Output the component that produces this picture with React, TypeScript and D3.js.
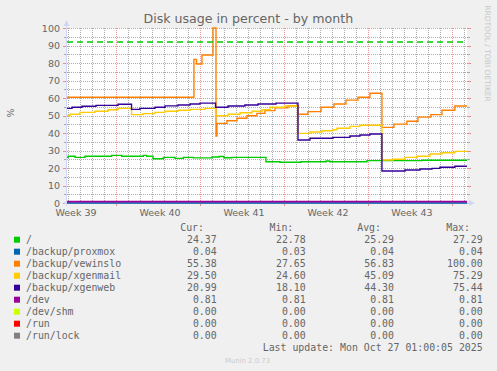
import React from "react";
import * as d3 from "d3";

// ---- data (x = days since left edge of graph, value in %) ----
const seriesNames = [
  "/",
  "/backup/proxmox",
  "/backup/vewinslo",
  "/backup/xgenmail",
  "/backup/xgenweb",
  "/dev",
  "/dev/shm",
  "/run",
  "/run/lock",
];
const seriesColors = [
  "#00CC00",
  "#0066B3",
  "#FF8000",
  "#FFCC00",
  "#330099",
  "#990099",
  "#CCFF00",
  "#FF0000",
  "#808080",
];
const curValues = ["24.37", "0.04", "55.38", "29.50", "20.99", "0.81", "0.00", "0.00", "0.00"];
const minValues = ["22.78", "0.03", "27.65", "24.60", "18.10", "0.81", "0.00", "0.00", "0.00"];
const avgValues = ["25.29", "0.04", "56.83", "45.09", "44.30", "0.81", "0.00", "0.00", "0.00"];
const maxValues = ["27.29", "0.04", "100.00", "75.29", "75.44", "0.81", "0.00", "0.00", "0.00"];

const rootData: [number, number][] = [
  [0, 26.1], [0.1, 26.7], [0.67, 26.1], [1.5, 26.7], [3.72, 27.2], [4.56, 26.7],
  [6.36, 27.2], [6.64, 26.7], [7.17, 25.3], [8.03, 26.1], [9.0, 25.5], [9.69, 26.1],
  [10.53, 25.8], [12.08, 26.3], [12.67, 26.6], [13.08, 25.9], [13.75, 26.1],
  [16.58, 23.6], [17.75, 23.3], [19.5, 23.6], [21.6, 24.0], [21.9, 23.6],
  [25.0, 24.2], [29.6, 24.4], [33.34, 24.4],
];
const proxmoxData: [number, number][] = [[0, 0.04], [33.34, 0.04]];
const vewinsloData: [number, number][] = [
  [0, 60.4], [10.58, 82.1], [10.79, 79.4], [11.25, 84.6], [12.17, 100], [12.42, 38.3],
  [12.5, 45.5], [13.33, 47.0], [14.17, 48.4], [15.0, 49.9], [15.83, 51.2], [16.5, 52.8],
  [17.33, 54.4], [18.42, 55.6], [19.25, 50.7], [20.08, 52.2], [21.17, 54.7], [22.25, 56.6],
  [23.25, 58.8], [24.25, 60.4], [25.25, 62.7], [26.25, 43.2], [27.25, 45.1], [28.33, 46.7],
  [29.25, 49.1], [30.33, 50.5], [31.25, 53.0], [32.33, 55.4], [33.34, 55.4],
];
const xgenmailData: [number, number][] = [
  [0, 49.9], [0.25, 50.7], [1.08, 51.8], [2.33, 52.4], [3.42, 53.3], [4.25, 54.1],
  [5.38, 50.5], [6.33, 51.1], [7.33, 51.8], [8.17, 52.4], [9.25, 53.0], [10.25, 53.5],
  [11.5, 54.1], [12.38, 49.9], [13.42, 50.7], [14.42, 51.6], [15.42, 52.4], [16.25, 53.3],
  [16.92, 54.7], [18.17, 55.4], [19.25, 39.8], [20.25, 40.6], [21.25, 41.3], [22.17, 41.9],
  [22.5, 42.7], [23.58, 43.8], [24.42, 44.4], [26.25, 24.6], [27.17, 25.0], [28.17, 26.1],
  [29.17, 26.7], [30.25, 28.0], [31.25, 28.7], [32.33, 29.5], [33.34, 29.5],
];
const xgenwebData: [number, number][] = [
  [0, 54.1], [0.42, 54.7], [1.25, 55.3], [2.42, 55.8], [4.25, 56.4], [5.38, 53.5],
  [6.08, 54.1], [7.33, 54.7], [8.17, 55.5], [9.25, 56.0], [10.25, 56.6], [11.08, 57.1],
  [12.38, 54.7], [13.42, 55.4], [14.83, 56.0], [15.92, 56.6], [17.42, 57.1], [19.25, 36.0],
  [20.25, 37.0], [22.17, 37.5], [23.58, 38.3], [24.42, 38.9], [25.25, 39.4], [26.25, 18.3],
  [28.17, 18.9], [29.42, 19.4], [30.42, 19.8], [31.08, 20.4], [32.33, 21.0], [33.34, 21.0],
];
const devData: [number, number][] = [[0, 0.81], [33.34, 0.81]];
const devShmData: [number, number][] = [[0, 0], [33.34, 0]];
const runData: [number, number][] = [[0, 0], [33.34, 0]];
const runLockData: [number, number][] = [[0, 0], [33.34, 0]];
const allSeries = [rootData, proxmoxData, vewinsloData, xgenmailData, xgenwebData, devData, devShmData, runData, runLockData];

const warningLevel = [92];
const yTicks = [0, 10, 20, 30, 40, 50, 60, 70, 80, 90, 100];
const weekLabels = ["Week 39", "Week 40", "Week 41", "Week 42", "Week 43"];
const weekLabelDays = [0.75, 7.75, 14.75, 21.75, 28.75];
const weekBoundaryDays = [4.09, 11.09, 18.09, 25.09, 32.09];
const totalDays = 33.34;

export default function App() {
  const W = 497, H = 371;
  const x = d3.scaleLinear().domain([0, totalDays]).range([67, 467]);
  const y = d3.scaleLinear().domain([0, 100]).range([203, 28]);
  const line = d3
    .line<[number, number]>()
    .x((d) => x(d[0]))
    .y((d) => y(d[1]))
    .curve(d3.curveStepAfter);

  const minorDays = d3.range(weekBoundaryDays[0] - 4, totalDays, 1);
  const minorY = d3.range(5, 100, 10);
  const px = (v: number) => Math.round(v) + 0.5;
  const sans = "'DejaVu Sans', sans-serif";
  const mono = "'DejaVu Sans Mono', monospace";
  const fontCol = "#666666";
  const rowY = (i: number) => 243.3 + 12 * i;

  // zero-valued series are drawn below the axis line, others on top
  const isZero = (s: [number, number][]) => s.every((d) => d[1] === 0);
  const order = allSeries.map((s, i) => i);
  const lowSeries = order.filter((i) => isZero(allSeries[i]));
  const highSeries = order.filter((i) => !isZero(allSeries[i]));

  return (
    <svg
      width={W}
      height={H}
      style={{ position: "absolute", left: 0, top: 0 }}
      xmlns="http://www.w3.org/2000/svg"
    >
      <rect x={0} y={0} width={W} height={H} fill="#F0F0F0" />
      <rect x={67} y={28} width={400} height={175} fill="#FFFFFF" />

      {/* minor grid */}
      <g stroke="rgba(143,143,143,0.75)" strokeWidth={1} strokeDasharray="1,1">
        {minorDays
          .filter((d) => !weekBoundaryDays.some((w) => Math.abs(w - d) < 0.01) && x(d) > 67.5)
          .map((d, i) => (
            <line key={"mx" + i} x1={px(x(d))} x2={px(x(d))} y1={28} y2={203} />
          ))}
        {minorY.map((v, i) => (
          <line key={"my" + i} x1={67} x2={467} y1={px(y(v))} y2={px(y(v))} />
        ))}
      </g>
      {/* minor tick marks */}
      <g stroke="rgba(143,143,143,0.75)" strokeWidth={1}>
        {minorY.map((v, i) => (
          <React.Fragment key={"mt" + i}>
            <line x1={64} x2={67} y1={px(y(v))} y2={px(y(v))} />
            <line x1={467} x2={470} y1={px(y(v))} y2={px(y(v))} />
          </React.Fragment>
        ))}
      </g>
      {/* major grid */}
      <g stroke="rgba(222,79,79,0.6)" strokeWidth={1} strokeDasharray="1,1">
        {weekBoundaryDays.map((d, i) => (
          <line key={"Mx" + i} x1={px(x(d))} x2={px(x(d))} y1={28} y2={203} />
        ))}
        {yTicks.map((v, i) => (
          <line key={"My" + i} x1={67} x2={467} y1={px(y(v))} y2={px(y(v))} />
        ))}
      </g>
      <g stroke="rgba(222,79,79,0.6)" strokeWidth={1}>
        {yTicks.map((v, i) => (
          <React.Fragment key={"Mt" + i}>
            <line x1={63} x2={67} y1={px(y(v))} y2={px(y(v))} />
            <line x1={467} x2={471} y1={px(y(v))} y2={px(y(v))} />
          </React.Fragment>
        ))}
        {weekBoundaryDays.map((d, i) => (
          <line key={"Mxt" + i} x1={px(x(d))} x2={px(x(d))} y1={203} y2={206} />
        ))}
      </g>

      {/* zero-valued series */}
      <g fill="none" strokeWidth={1.4}>
        {lowSeries.map((i) => (
          <path key={"z" + i} d={line(allSeries[i]) || ""} stroke={seriesColors[i]} />
        ))}
      </g>

      {/* axes */}
      <g stroke="#CFD6F8" strokeWidth={1}>
        <line x1={px(67) - 1} x2={px(67) - 1} y1={206} y2={24} />
        <line x1={64} x2={470} y1={203} y2={203} strokeWidth={1.6} />
      </g>
      <path d="M63.5,26 L66.5,20 L69.5,26 Z" fill="#CFD6F8" />
      <path d="M469,200 L475,203 L469,206 Z" fill="#CFD6F8" />

      {/* series */}
      <g fill="none" strokeWidth={1.4} strokeLinejoin="miter">
        {highSeries.map((i) => (
          <path
            key={"s" + i}
            d={line(allSeries[i]) || ""}
            stroke={seriesColors[i]}
            strokeWidth={seriesNames[i] === "/dev" ? 1.8 : 1.4}
          />
        ))}
      </g>

      {/* warning line */}
      {warningLevel.map((w, i) => (
        <line
          key={"w" + i}
          x1={67}
          x2={467}
          y1={y(w)}
          y2={y(w)}
          stroke="#00CC00"
          strokeWidth={1.6}
          strokeDasharray="6,4"
        />
      ))}

      {/* title */}
      <text x={248.3} y={22.5} textAnchor="middle" fontFamily={sans} fontSize={12.6} fill={fontCol}>
        Disk usage in percent - by month
      </text>

      {/* y labels */}
      <g fontFamily={sans} fontSize={9.5} fill={fontCol} textAnchor="end">
        {yTicks.map((v) => (
          <text key={"yl" + v} x={60} y={y(v) + 3.5}>
            {v}
          </text>
        ))}
      </g>
      <text
        transform="translate(13.5,113) rotate(-90)"
        textAnchor="middle"
        fontFamily={sans}
        fontSize={9.5}
        fill={fontCol}
      >
        %
      </text>

      {/* x labels */}
      <g fontFamily={sans} fontSize={9.5} fill={fontCol} textAnchor="middle">
        {weekLabels.map((l, i) => (
          <text key={"xl" + i} x={x(weekLabelDays[i])} y={216}>
            {l}
          </text>
        ))}
      </g>

      {/* watermark */}
      <text
        transform="translate(485,53.5) rotate(90)"
        textAnchor="middle"
        fontFamily={sans}
        fontSize={7.5}
        fill="#C8C8C8"
      >
        RRDTOOL / TOBI OETIKER
      </text>

      {/* legend */}
      <g fontFamily={mono} fontSize={9.9} fill={fontCol} style={{ whiteSpace: "pre" }}>
        <text x={204} y={231.3} textAnchor="end">Cur:</text>
        <text x={293.3} y={231.3} textAnchor="end">Min:</text>
        <text x={381} y={231.3} textAnchor="end">Avg:</text>
        <text x={470} y={231.3} textAnchor="end">Max:</text>
        {seriesNames.map((n, i) => (
          <g key={"lg" + i}>
            <rect x={14} y={rowY(i) - 6.6} width={6} height={6} fill={seriesColors[i]} />
            <text x={26} y={rowY(i)}>{n}</text>
            <text x={216.7} y={rowY(i)} textAnchor="end">{curValues[i]}</text>
            <text x={305.7} y={rowY(i)} textAnchor="end">{minValues[i]}</text>
            <text x={394} y={rowY(i)} textAnchor="end">{avgValues[i]}</text>
            <text x={482.7} y={rowY(i)} textAnchor="end">{maxValues[i]}</text>
          </g>
        ))}
        <text x={482.7} y={rowY(9)} textAnchor="end">
          Last update: Mon Oct 27 01:00:05 2025
        </text>
      </g>
      <text x={247.5} y={362.5} textAnchor="middle" fontFamily={sans} fontSize={6.9} fill="#CCCCCC">
        Munin 2.0.73
      </text>
    </svg>
  );
}
